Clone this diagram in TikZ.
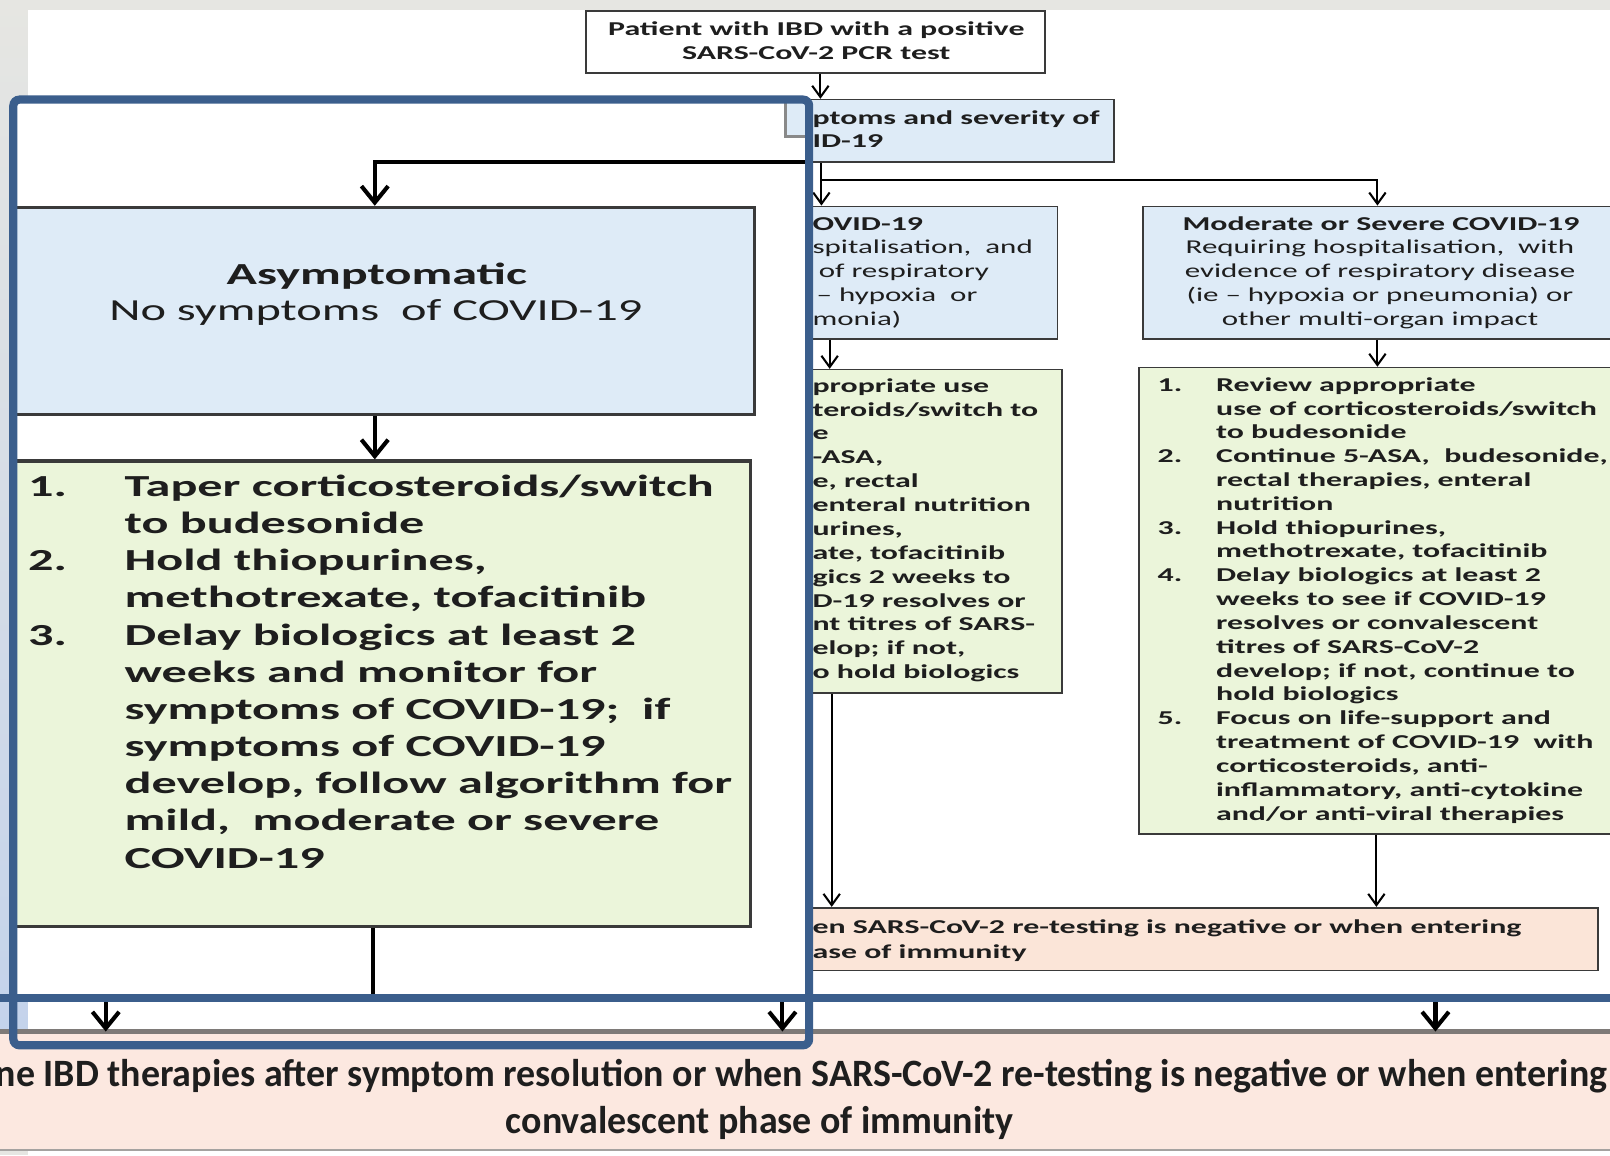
\documentclass[tikz,border=0pt]{standalone}
\usepackage{fontspec}
\setmainfont{Carlito}
% wide faces for the flowchart, a slightly narrow face for the closing band
\newfontfamily\chartfont[FakeStretch=1.58]{Carlito}
\newfontfamily\chartbold[FakeStretch=1.625]{Carlito}
\newfontfamily\chartboldL[FakeStretch=1.64]{Carlito}
\newfontfamily\bandfont[FakeStretch=0.98]{Carlito}
\usetikzlibrary{arrows.meta,fit}

\definecolor{bggrey}{HTML}{E6E6E2}
\definecolor{stripblue}{HTML}{C4D3EB}
\definecolor{boxblue}{HTML}{DEEBF7}
\definecolor{boxgreen}{HTML}{EBF5DA}
\definecolor{boxpink}{HTML}{FBE5D8}
\definecolor{bandpink}{HTML}{FCE8E0}
\definecolor{bandedge}{HTML}{7E7A78}
\definecolor{framecol}{HTML}{3B5E8C}
\definecolor{edgecol}{HTML}{3A3A3A}
\definecolor{inkcol}{HTML}{1E1E1E}

\tikzset{
  boxS/.style={draw=edgecol, line width=0.8pt, inner sep=0pt},
  boxL/.style={draw=edgecol, line width=1.6pt, inner sep=0pt},
  arrS/.style={line width=1pt, draw=black, -{Straight Barb[length=5.5pt,width=8pt]}},
  arrL/.style={line width=2pt, draw=black, -{Straight Barb[length=8pt,width=13pt]}},
  lineL/.style={line width=2pt, draw=black},
  txS/.style={inner sep=0pt, text=inkcol, font=\chartfont\fontsize{9.55}{11.65}\selectfont},
  txSb/.style={inner sep=0pt, text=inkcol, font=\chartbold\bfseries\fontsize{9.55}{11.65}\selectfont},
  txL/.style={inner sep=0pt, text=inkcol, font=\chartfont\fontsize{14.9}{18.15}\selectfont},
  txLb/.style={inner sep=0pt, text=inkcol, font=\chartboldL\bfseries\fontsize{14.9}{18.15}\selectfont},
  txB/.style={inner sep=0pt, text=inkcol, font=\bandfont\bfseries\fontsize{18.85}{23}\selectfont},
  frameline/.style={draw=framecol, line width=4pt},
}

\begin{document}
\begin{tikzpicture}[x=0.5pt, y=-0.5pt]
\useasboundingbox (0,0) rectangle (1568,1125);
\clip (0,0) rectangle (1568,1125);

% page background and margin strips
\fill[bggrey] (0,0) rectangle (1568,1125);
\fill[white] (27,10) rectangle (1568,1125);
\shade[top color=bggrey, bottom color=stripblue] (0,0) rectangle (27,1005);

% ---------------- flowchart at normal scale ----------------
\node[boxS, fill=white, fit={(571,11) (1018,71)}] (patient) {};
\node[txSb, anchor=base] (pat1) at (795,35) {Patient with IBD with a positive};
\node[txSb, anchor=base] (pat2) at (795,58) {SARS-CoV-2 PCR test};

\node[boxS, fill=boxblue, fit={(500,97) (1085,158)}] (symptoms) {};
\node[txSb, anchor=base west] (sym1) at (791,121) {ptoms and severity of};
\node[txSb, anchor=base west] (sym2) at (791,144) {ID-19};

\node[boxS, fill=boxblue, fit={(586,201) (1030,330)}] (mild) {};
\node[txSb, anchor=base west] (mild1) at (791,224) {OVID-19};
\node[txS, anchor=base west] (mild2) at (791,247.3) {spitalisation,~ and};
\node[txS, anchor=base west] (mild3) at (797,270.6) {of respiratory};
\node[txS, anchor=base west] (mild4) at (795,293.9) {– hypoxia~ or};
\node[txS, anchor=base west] (mild5) at (791,317.2) {monia)};

\node[boxS, fill=boxblue, fit={(1113,201) (1570,330)}] (moderate) {};
\node[txSb, anchor=base] (mod1) at (1345,224) {Moderate or Severe COVID-19};
\node[txS, anchor=base] (mod2) at (1344,247.3) {Requiring hospitalisation,~ with};
\node[txS, anchor=base] (mod3) at (1344,270.6) {evidence of respiratory disease};
\node[txS, anchor=base] (mod4) at (1344,293.9) {(ie – hypoxia or pneumonia) or};
\node[txS, anchor=base] (mod5) at (1344,317.2) {other multi-organ impact};

\node[boxS, fill=boxgreen, fit={(586,360) (1034,675)}] (mildtx) {};
\foreach \t [count=\i from 0] in {
  {propriate use},{teroids/switch to},{e},{-ASA,},{e, rectal},
  {enteral nutrition},{urines,},{ate, tofacitinib},{gics 2 weeks to},
  {D-19 resolves or},{nt titres of SARS-},{elop; if not,},{o hold biologics}}
  \node[txSb, anchor=base west] (mildline\i) at (791,{382+23.25*\i}) {\t};

\node[boxS, fill=boxgreen, fit={(1109,358) (1572,812)}] (modtx) {};
\foreach \n/\k in {1/0,2/3,3/6,4/8,5/14}
  \node[txSb, anchor=base west] (modnum\n) at (1127,{381+23.2*\k}) {\n.};
\foreach \t [count=\i from 0] in {
  {Review appropriate},
  {use of corticosteroids/switch},
  {to budesonide},
  {Continue 5-ASA,~ budesonide,},
  {rectal therapies, enteral},
  {nutrition},
  {Hold thiopurines,},
  {methotrexate, tofacitinib},
  {Delay biologics at least 2},
  {weeks to see if COVID-19},
  {resolves or convalescent},
  {titres of SARS-CoV-2},
  {develop; if not, continue to},
  {hold biologics},
  {Focus on life-support and},
  {treatment of COVID-19~ with},
  {corticosteroids, anti-},
  {inflammatory, anti-cytokine},
  {and/or anti-viral therapies}}
  \node[txSb, anchor=base west] (modline\i) at (1184,{381+23.2*\i}) {\t};

\node[boxS, fill=boxpink, fit={(400,884) (1556,945)}] (resume) {};
\node[txSb, anchor=base west] (res1) at (791,909) {en SARS-CoV-2 re-testing is negative or when entering};
\node[txSb, anchor=base west] (res2) at (791,933) {ase of immunity};

% connectors at normal scale
\coordinate (colA) at (799,0);
\coordinate (colB) at (800,0);
\coordinate (colC) at (808,0);
\coordinate (colD) at (810,0);
\coordinate (split) at (800,175);
\draw[arrS] (patient.south -| colA) -- (symptoms.north -| colA);
\draw[arrS] (symptoms.south -| colB) -- (mild.north -| colB);
\draw[arrS] (split) -| (moderate.north);
\draw[arrS] (mild.south -| colC) -- (mildtx.north -| colC);
\draw[arrS] (moderate.south) -- (moderate.south |- modtx.north);
\draw[arrS] (mildtx.south -| colD) -- (resume.north -| colD);
\draw[arrS] (modtx.south) -- (modtx.south |- resume.north);

% ---------------- enlarged closing band ----------------
\node[fill=bandpink, inner sep=0pt, fit={(-5,1005) (1575,1120)}] (band) {};
\draw[draw=bandedge, line width=2.5pt] (band.north west) -- (band.north east);
\draw[draw=bandedge!70, line width=1pt] (band.south west) -- (band.south east);
\node[txB, anchor=base east] (band1) at (1566,1058) {ne IBD therapies after symptom resolution or when SARS-CoV-2 re-testing is negative or when entering};
\node[txB, anchor=base] (band2) at (740,1104) {convalescent phase of immunity};
\coordinate (inA) at (103,976);
\coordinate (inB) at (762,976);
\coordinate (inC) at (1398,976);
\draw[arrL] (inA) -- (inA |- band.north);
\draw[arrL] (inB) -- (inB |- band.north);
\draw[arrL] (inC) -- (inC |- band.north);

% ---------------- enlarged detail window ----------------
\fill[white] (13,97) rectangle (788,972);
\begin{scope}
  \clip (13,97) rectangle (788,972);
  \node[boxL, draw=edgecol!60, fill=boxblue, fit={(765,30) (1100,133)}] (zsymptoms) {};
  \node[boxL, fill=boxblue, fit={(-5,202) (735,404)}] (zasym) {};
  \node[txLb, anchor=base] (zasym1) at (367,277) {Asymptomatic};
  \node[txL, anchor=base] (zasym2) at (366,312) {No symptoms~~of COVID-19};
  \node[boxL, fill=boxgreen, fit={(-5,449) (731,902)}] (zasymtx) {};
  \foreach \n/\k in {1/0,2/2,3/4}
    \node[txLb, anchor=base west] (znum\n) at (27,{483.5+36.2*\k}) {\n.};
  \foreach \t [count=\i from 0] in {
    {Taper corticosteroids/switch},
    {to budesonide},
    {Hold thiopurines,},
    {methotrexate, tofacitinib},
    {Delay biologics at least 2},
    {weeks and monitor for},
    {symptoms of COVID-19;~ if},
    {symptoms of COVID-19},
    {develop, follow algorithm for},
    {mild,~ moderate or severe},
    {COVID-19}}
    \node[txLb, anchor=base west] (zline\i) at (121,{483.5+36.2*\i}) {\t};
  \coordinate (zsplit) at (800,158);
  \coordinate (zexit) at (363,975);
  \draw[arrL] (zsplit) -| (zasym.north);
  \draw[arrL] (zasym.south) -- (zasym.south |- zasymtx.north);
  \draw[lineL] (zasymtx.south) -- (zasymtx.south |- zexit);
\end{scope}

% window outline and guide line
\draw[frameline] (-5,972) -- (1575,972);
\draw[frameline, rounded corners=3pt] (13,97) rectangle (788,1018);
\end{tikzpicture}
\end{document}
